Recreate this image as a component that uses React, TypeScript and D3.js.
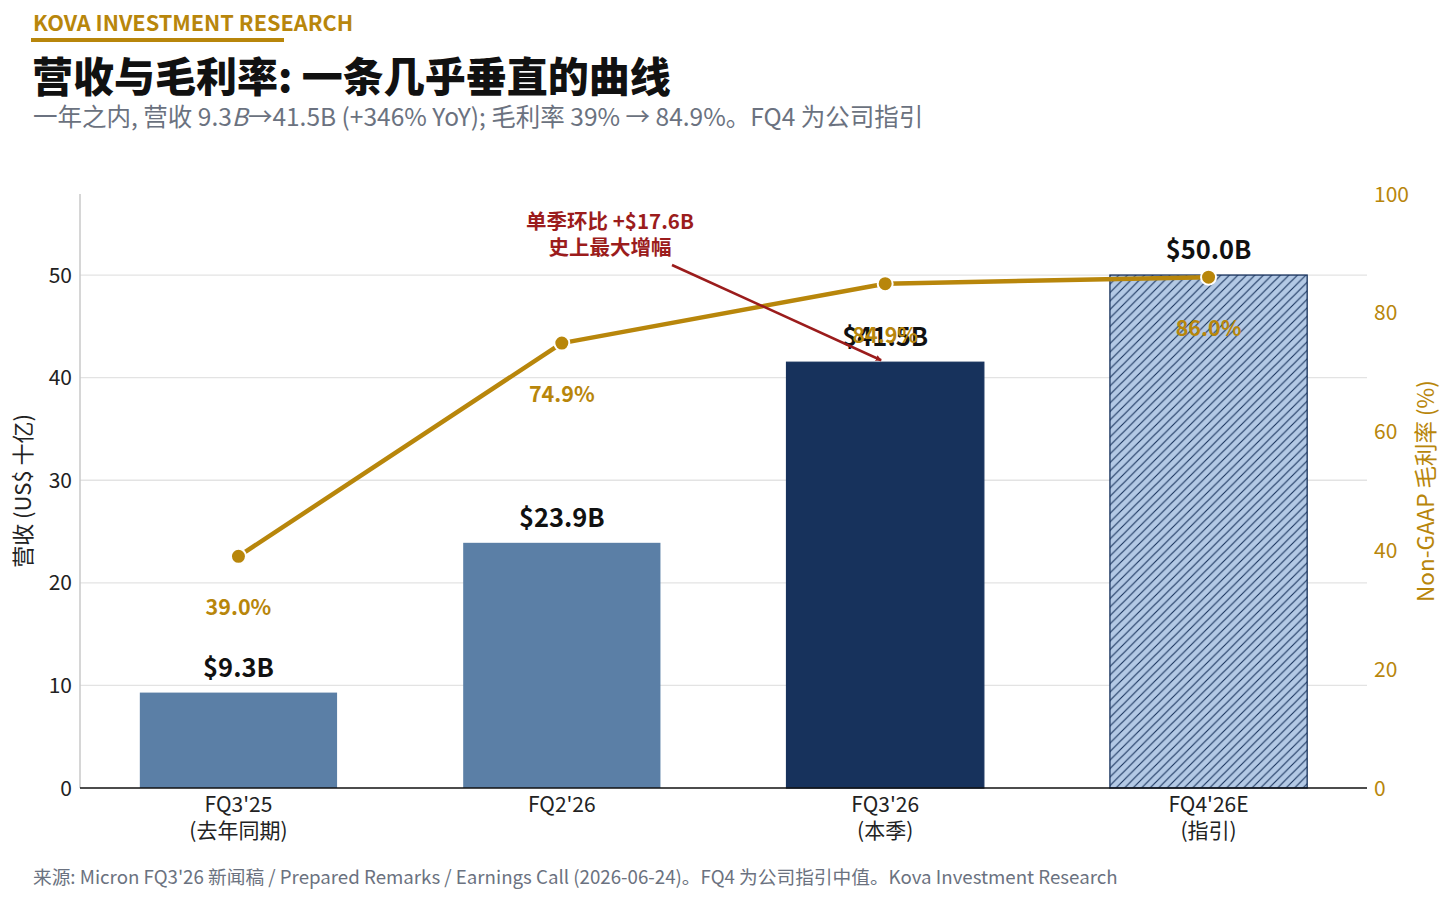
import React from "react";
import * as d3 from "d3";

const categories = ["FQ3'25", "FQ2'26", "FQ3'26", "FQ4'26E"];
const subLabels = ["(去年同期)", "", "(本季)", "(指引)"];
const revenue = [9.3, 23.9, 41.5, 50.0];
const revenueLabels = ["$9.3B", "$23.9B", "$41.5B", "$50.0B"];
const grossMargin = [39.0, 74.9, 84.9, 86.0];
const leftTicks = [0, 10, 20, 30, 40, 50];
const rightTicks = [0, 20, 40, 60, 80, 100];
const barKinds = ["past", "past", "current", "guide"];

const W = 1456;
const H = 903;
const FONT = "'Noto Sans CJK SC', 'Noto Sans', sans-serif";
const GOLD = "#B8860B";
const RED = "#9B1C1C";

export default function App() {
  const left = 80;
  const right = 1367;
  const bottom = 788;
  const top = 194;

  const x = d3.scaleLinear().domain([-0.49, 3.49]).range([left, right]);
  const yL = d3.scaleLinear().domain([0, 57.9]).range([bottom, top]);
  const yR = d3.scaleLinear().domain([0, 100]).range([bottom, top]);
  const barW = x(0.61) - x(0);

  const line = d3
    .line<number>()
    .x((_, i) => x(i))
    .y((d) => yR(d));

  const fillFor = (k: string) =>
    k === "past" ? "#5B7FA6" : k === "current" ? "#17325C" : "url(#hatch)";

  return (
    <svg
      width={W}
      height={H}
      viewBox={`0 0 ${W} ${H}`}
      style={{ display: "block", position: "absolute", left: 0, top: 0, background: "#fff" }}
      fontFamily={FONT}
    >
      <defs>
        <pattern id="hatch" patternUnits="userSpaceOnUse" width={8.5} height={8.5}>
          <rect width={8.5} height={8.5} fill="#B3C9E5" />
          <path d="M-2,2 L2,-2 M0,8.5 L8.5,0 M6.5,10.5 L10.5,6.5" stroke="#17325C" strokeWidth={1.1} />
        </pattern>
        <marker
          id="arrow"
          viewBox="0 0 10 10"
          refX={9}
          refY={5}
          markerWidth={6}
          markerHeight={6}
          markerUnits="userSpaceOnUse"
          orient="auto"
        >
          <path d="M0,0 L10,5 L0,10 z" fill={RED} />
        </marker>
      </defs>

      {/* Header */}
      <text x={33} y={31} fontSize={21.7} fontWeight={700} fill={GOLD}>
        KOVA INVESTMENT RESEARCH
      </text>
      <rect x={31} y={38} width={253} height={4} fill={GOLD} />
      <text x={32} y={92} fontSize={41} fontWeight={900} fill="#111">
        营收与毛利率: 一条几乎垂直的曲线
      </text>
      <text x={33} y={126} fontSize={24.5} fill="#6B7280">
        一年之内, 营收 9.3<tspan fontStyle="italic">B</tspan>→41.5B (+346% YoY); 毛利率 39% → 84.9%。FQ4 为公司指引
      </text>

      {/* Gridlines */}
      {leftTicks
        .filter((t) => t > 0)
        .map((t) => (
          <line key={t} x1={left} x2={right} y1={yL(t)} y2={yL(t)} stroke="#E3E3E3" strokeWidth={1.3} />
        ))}

      {/* Left spine */}
      <line x1={left} x2={left} y1={top} y2={bottom} stroke="#C8C8C8" strokeWidth={1.5} />

      {/* Bars */}
      {revenue.map((v, i) => (
        <rect
          key={i}
          x={x(i) - barW / 2}
          y={yL(v)}
          width={barW}
          height={yL(0) - yL(v)}
          fill={fillFor(barKinds[i])}
          stroke={barKinds[i] === "past" ? "none" : "#17325C"}
          strokeWidth={1.3}
        />
      ))}

      {/* Bottom axis */}
      <line x1={left} x2={right} y1={bottom} y2={bottom} stroke="#111" strokeWidth={1.5} />

      {/* Left ticks */}
      {leftTicks.map((t) => (
        <text key={t} x={72} y={yL(t) + 7.5} fontSize={21} textAnchor="end" fill="#222">
          {t}
        </text>
      ))}
      <text
        transform={`translate(31, ${(top + bottom) / 2}) rotate(-90)`}
        fontSize={22}
        textAnchor="middle"
        fill="#222"
      >
        营收 (US$ 十亿)
      </text>

      {/* Right ticks */}
      {rightTicks.map((t) => (
        <text key={t} x={1374} y={yR(t) + 7.5} fontSize={21} fill={GOLD}>
          {t}
        </text>
      ))}
      <text
        transform={`translate(1434, ${(top + bottom) / 2}) rotate(-90)`}
        fontSize={22.5}
        textAnchor="middle"
        fill={GOLD}
      >
        Non-GAAP 毛利率 (%)
      </text>

      {/* X labels */}
      {categories.map((c, i) => (
        <g key={c}>
          <text x={x(i)} y={812} fontSize={21} textAnchor="middle" fill="#222">
            {c}
          </text>
          {subLabels[i] && (
            <text x={x(i)} y={838} fontSize={21} textAnchor="middle" fill="#222">
              {subLabels[i]}
            </text>
          )}
        </g>
      ))}

      {/* Bar value labels */}
      {revenue.map((v, i) => (
        <text key={i} x={x(i)} y={yL(v) - 16} fontSize={25.5} fontWeight={700} textAnchor="middle" fill="#111">
          {revenueLabels[i]}
        </text>
      ))}

      {/* Margin line */}
      <path d={line(grossMargin) || ""} fill="none" stroke={GOLD} strokeWidth={4.5} strokeLinejoin="round" />
      {grossMargin.map((g, i) => (
        <circle key={i} cx={x(i)} cy={yR(g)} r={7.5} fill={GOLD} stroke="#fff" strokeWidth={2} />
      ))}
      {grossMargin.map((g, i) => (
        <text key={i} x={x(i)} y={yR(g) + 59} fontSize={21.5} fontWeight={700} textAnchor="middle" fill={GOLD}>
          {g.toFixed(1)}%
        </text>
      ))}

      {/* Annotation */}
      <text x={610} y={229} fontSize={20.5} fontWeight={700} textAnchor="middle" fill={RED}>
        单季环比 +$17.6B
      </text>
      <text x={610} y={255} fontSize={20.5} fontWeight={700} textAnchor="middle" fill={RED}>
        史上最大增幅
      </text>
      <line
        x1={672}
        y1={265}
        x2={x(2) - 4}
        y2={yL(revenue[2]) - 2}
        stroke={RED}
        strokeWidth={2.5}
        markerEnd="url(#arrow)"
      />

      {/* Footer */}
      <text x={33} y={884} fontSize={18.7} fill="#6B7280">
        来源: Micron FQ3'26 新闻稿 / Prepared Remarks / Earnings Call (2026-06-24)。FQ4 为公司指引中值。Kova Investment Research
      </text>
    </svg>
  );
}
